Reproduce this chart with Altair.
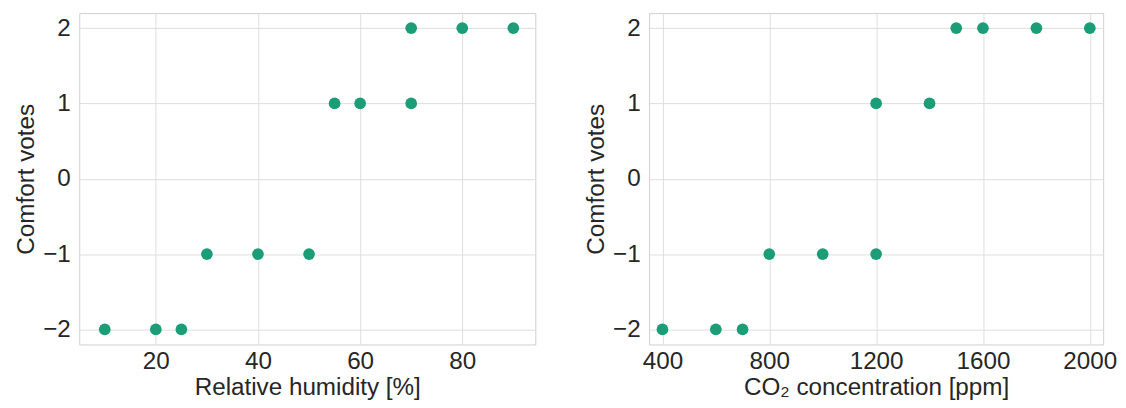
import altair as alt
import pandas as pd

# Left panel data
humidity = [10, 20, 25, 30, 40, 50, 55, 60, 70, 70, 80, 90]
votes_humidity = [-2, -2, -2, -1, -1, -1, 1, 1, 1, 2, 2, 2]

# Right panel data
co2 = [400, 600, 700, 800, 1000, 1200, 1200, 1400, 1500, 1600, 1800, 2000]
votes_co2 = [-2, -2, -2, -1, -1, -1, 1, 1, 2, 2, 2, 2]

x_ticks_left = [20, 40, 60, 80]
x_ticks_right = [400, 800, 1200, 1600, 2000]
y_ticks = [-2, -1, 0, 1, 2]

df_left = pd.DataFrame({"x": humidity, "y": votes_humidity})
df_right = pd.DataFrame({"x": co2, "y": votes_co2})

FONT = "Liberation Sans"
TXT = "#262626"
GRID = "#dedede"
DOT = "#1b9e77"
FS = 24.5


def yaxis():
    return alt.Axis(
        values=y_ticks, title="Comfort votes", ticks=False, domain=False,
        labelPadding=9, titlePadding=5, minExtent=36, maxExtent=36,
        gridColor=GRID, labelFontSize=FS, titleFontSize=FS,
    )


def panel(df, xdom, xticks, xtitle, w):
    return alt.Chart(df).mark_circle(size=140, opacity=1, color=DOT).encode(
        x=alt.X("x:Q", scale=alt.Scale(domain=xdom, nice=False, zero=False),
                axis=alt.Axis(values=xticks, title=xtitle, format="d", ticks=False,
                              domain=False, labelPadding=5, titlePadding=3,
                              gridColor=GRID, labelFontSize=FS, titleFontSize=FS)),
        y=alt.Y("y:Q", scale=alt.Scale(domain=[-2.2, 2.2], nice=False, zero=False),
                axis=yaxis()),
    ).properties(width=w, height=335)


left = panel(df_left, [5, 94.3], x_ticks_left, "Relative humidity [%]", 461)
right = panel(df_right, [350, 2050], x_ticks_right, "CO₂ concentration [ppm]", 459)

chart = alt.hconcat(left, right, spacing=47).properties(
    padding={"left": 5, "top": 2, "right": 0, "bottom": 0}
).configure_view(stroke="#cfcfcf", strokeWidth=1).configure_axis(
    labelFont=FONT, titleFont=FONT, labelColor=TXT, titleColor=TXT,
    titleFontWeight="normal", gridWidth=1,
)

chart.save("out.html", embed_options={"renderer": "svg", "actions": False})
